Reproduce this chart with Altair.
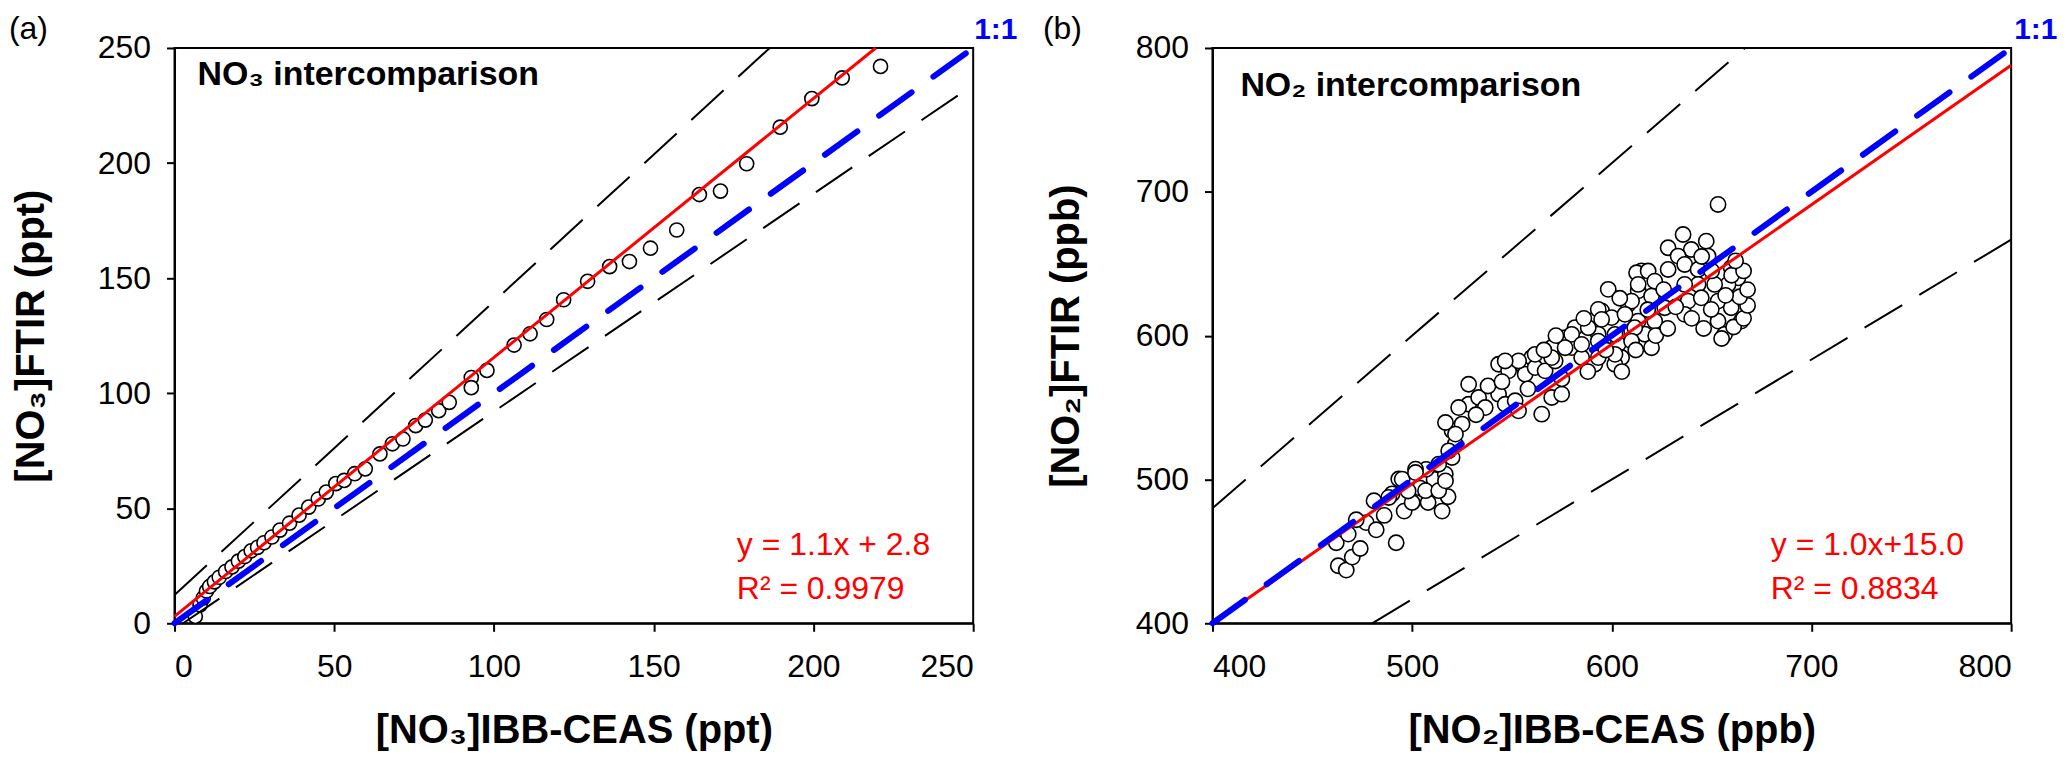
import altair as alt
import pandas as pd

FONT = "Liberation Sans"
W, H = 801, 577

# panel (a): NO3, IBB-CEAS vs FTIR (ppt)
no3_ceas = [6.5, 8, 9, 10, 11, 12.5, 14, 16, 18, 20, 22, 24, 26, 28, 30.5, 33, 36, 39, 42, 45,
            47.5, 50.5, 53.1, 56.4, 59.7, 64.3, 68.2, 71.5, 75.5, 78.5, 82.7, 86.0, 92.9, 92.9,
            97.8, 106.3, 111.3, 116.5, 121.8, 129.3, 136.2, 142.4, 149.0, 157.2, 164.3, 170.9,
            179.1, 189.6, 199.5, 209, 221]
no3_ftir = [3, 8, 11, 14, 16, 18, 20, 22.5, 24.5, 27, 29, 31.5, 33, 35, 37.5, 40.5, 43.5, 47,
            50.5, 54, 57, 60.7, 62.1, 65.0, 67.1, 73.6, 78.0, 80.1, 85.9, 88.3, 92.4, 96.0,
            106.8, 102.4, 109.9, 120.9, 125.8, 132.0, 140.6, 148.6, 155.0, 157.2, 163.0, 170.9,
            186.3, 187.8, 199.7, 215.6, 228, 237, 242]

# panel (b): NO2, IBB-CEAS vs FTIR (ppb)
no2_ceas = [
    463, 467, 470, 462, 468, 474, 477, 482, 486, 492, 496, 500, 504, 508, 511, 507, 515, 518,
    472, 490, 498, 480.9, 488.3, 493.3, 501.7, 506.7, 513.3, 516.6, 520, 521.6, 520, 525,
    528.3, 528.3, 533.3, 536.6, 543.3, 546.6, 551.6, 553.3, 543.3, 548.3, 554.9, 556.6, 559.9,
    561.6, 566.6, 564.9, 569.9, 574.9, 571.6, 569.9, 576.6, 581.6, 579.9, 584.9, 589.9, 593.2,
    594.9, 599.9, 591.5, 598.2, 608.2, 613.2, 614.9, 603.2, 609.9, 616.5, 604.9, 601.5,
    653.2, 635.7, 647.3, 628.2, 639.8, 648.2, 633.2, 612.4, 618.2, 628.2, 636.5, 643.2, 659.8,
    663.2, 658.2, 651.5, 643.2, 636.5, 621.5, 613.2, 609.9, 619.9, 626.5, 638.2, 644.8, 653.2,
    659.8, 664.8, 653.2, 656.5, 649.8, 636.5, 621.5, 613.2, 606.6, 593.2, 594.9, 588.2, 579.9,
    576.6, 584.9, 593.2, 601.6, 611.5, 619.9, 609.9, 601.6, 593.2, 569.9, 561.6, 553.3, 546.6,
    495, 501.7, 516.7, 523.3, 518.3, 513.3, 516.7, 521.7,
    655, 661, 666, 668, 664, 668, 660, 666, 662, 657, 650, 645,
    532, 538, 545, 558, 575, 588, 597, 605, 612, 622, 628, 632, 640, 646, 626, 618, 604, 586,
    572, 566,
]
no2_ftir = [
    440, 437, 446, 456, 462, 452, 470, 465, 475, 456, 478, 484, 494, 484, 500, 507, 478, 488,
    472, 490, 492, 485.2, 487.5, 500.3, 507.2, 492.2, 492.2, 503.7, 515.3, 524.6, 533.8, 538.5,
    552.3, 566.2, 557, 550, 559.3, 552.3, 554.7, 547.7, 580.1, 575.5, 580.1, 573.2, 584.8,
    577.8, 575.5, 545.4, 557, 559.3, 582.4, 591.7, 598.6, 605.6, 591.7, 584.8, 610.2, 601,
    617.2, 612.5, 580.1, 632.2, 621.8, 631.1, 645, 594, 603.3, 601, 584.8, 580.1,
    691.2, 670.3, 665.7, 661.1, 659.9, 655.3, 655.3, 643.7, 644.9, 646, 649.5, 646, 647.2,
    640.2, 635.6, 635.6, 635.6, 635.6, 637.9, 635.6, 624, 627.5, 619.4, 624, 626.3, 624,
    619.4, 610.1, 610.1, 600.9, 618.2, 614.8, 610.1, 610.1, 614.8, 618.2, 611.3, 605.5, 600.9,
    591.6, 593.9, 596.2, 600.9, 605.5, 591.6, 596.2, 587, 584.7, 584.7, 587, 582.4, 582.4,
    500.2, 504.8, 539.6, 550, 519.9, 510.6, 499, 531.5,
    598, 606, 612, 621, 627, 632, 642, 645, 652, 628, 645, 655,
    545, 565, 568, 563, 570, 575, 590, 575, 590, 600, 605, 620, 612, 605, 632, 618, 626, 612,
    600, 590,
]

# reference lines, end points
lines_a = {
    "upper": ([0, 186.3], [12.3, 250]),
    "lower": ([2.7, 250], [0, 233.9]),
    "fit": ([0, 219.5], [3, 250]),
    "one": ([0, 250], [0, 250]),
}
lines_b = {
    "upper": ([400, 666.7], [480, 800]),
    "lower": ([480, 800], [400, 666.7]),
    "fit": ([400, 800], [400, 788]),
    "one": ([400, 800], [400, 800]),
}

ticks_a = [0, 50, 100, 150, 200, 250]
ticks_b = [400, 500, 600, 700, 800]


def text_layer(txt, x, y, size, color="black", weight="normal"):
    return (
        alt.Chart(pd.DataFrame({"t": [txt]}))
        .mark_text(align="left", baseline="alphabetic", font=FONT, fontSize=size,
                   fontWeight=weight, color=color)
        .encode(text="t:N", x=alt.value(x), y=alt.value(y))
    )


def panel(px, py, lines, ticks, xtitle, ytitle, ytitle_x, dot_size, texts):
    dom = [ticks[0], ticks[-1]]
    x_enc = alt.X(
        "x:Q",
        scale=alt.Scale(domain=dom, nice=False, zero=False),
        axis=alt.Axis(values=ticks, title=xtitle, labelPadding=20, titleX=W / 2, titleY=108,
                      titleBaseline="middle", titleAlign="center"),
    )
    y_enc = alt.Y(
        "y:Q",
        scale=alt.Scale(domain=dom, nice=False, zero=False),
        axis=alt.Axis(values=ticks, title=ytitle, labelPadding=16, titleX=ytitle_x,
                      titleY=H / 2, titleAngle=270, titleBaseline="middle",
                      titleAlign="center"),
    )
    pts = (
        alt.Chart(pd.DataFrame({"x": px, "y": py}))
        .mark_circle(size=dot_size, fill="white", stroke="black", strokeWidth=1.6, opacity=1)
        .encode(x=x_enc, y=y_enc)
    )

    def line(key, color, width, dash=None, cap="butt"):
        xs, ys = lines[key]
        kw = dict(color=color, strokeWidth=width, strokeCap=cap)
        if dash:
            kw["strokeDash"] = dash
        return alt.Chart(pd.DataFrame({"x": xs, "y": ys})).mark_line(**kw).encode(x=x_enc, y=y_enc)

    layers = [
        pts,
        line("upper", "black", 2, [44, 20]),
        line("lower", "black", 2, [44, 20]),
        line("fit", "#ff0000", 3),
        line("one", "#0000ff", 6, [40, 27], "round"),
    ]
    layers += [text_layer(*t) for t in texts]
    return alt.layer(*layers).properties(width=W, height=H)


left = panel(
    no3_ceas, no3_ftir, lines_a, ticks_a,
    "[NO₃]IBB-CEAS (ppt)", "[NO₃]FTIR (ppt)", -143, 200,
    [
        ("NO₃ intercomparison", 23, 37, 34, "black", "bold"),
        ("y = 1.1x + 2.8", 564, 509, 32, "#ff0000"),
        ("R² = 0.9979", 564, 553, 32, "#ff0000"),
        ("1:1", W + 1, -9, 30, "#0000ff", "bold"),
        ("(a)", -166, -9, 32),
    ],
)

right = panel(
    no2_ceas, no2_ftir, lines_b, ticks_b,
    "[NO₂]IBB-CEAS (ppb)", "[NO₂]FTIR (ppb)", -146, 235,
    [
        ("NO₂ intercomparison", 28, 48, 34, "black", "bold"),
        ("y = 1.0x+15.0", 560, 509, 32, "#ff0000"),
        ("R² = 0.8834", 560, 553, 32, "#ff0000"),
        ("1:1", W + 3, -9, 30, "#0000ff", "bold"),
        ("(b)", -170, -9, 32),
    ],
)

chart = (
    alt.hconcat(left, right, spacing=23)
    .properties(padding={"top": 3, "left": 0, "right": 0, "bottom": 0}, background="white")
    .configure_view(stroke="black", strokeWidth=2)
    .configure_axis(
        grid=False,
        domainColor="black", domainWidth=2,
        tickColor="black", tickWidth=2, tickSize=8,
        labelFont=FONT, labelFontSize=32, labelColor="black",
        titleFont=FONT, titleFontSize=40, titleFontWeight="bold", titleColor="black",
    )
)

chart.save("out.html", embed_options={"renderer": "svg", "actions": False})
